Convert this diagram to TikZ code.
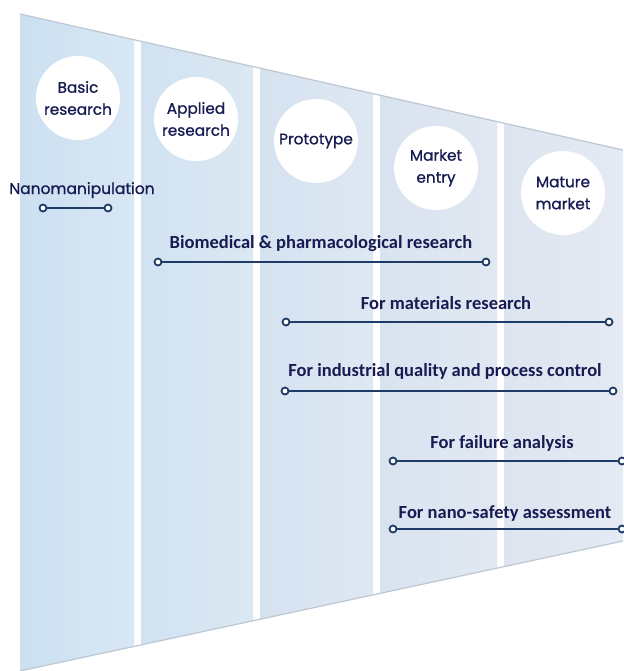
\documentclass[tikz,border=0pt]{standalone}
\usepackage{fontspec}
\setmainfont{Poppins}[FakeBold=0.9]
\newfontfamily\labfont{Carlito}
\begin{document}
\begin{tikzpicture}[x=1pt,y=-1pt,
  stage/.style={circle,fill=white,minimum size=84pt,inner sep=0pt,
    align=center,text=navytext,font=\fontsize{15.3}{22}\selectfont},
  endpt/.style={circle,draw=linkblue,fill=white,line width=1.8pt,
    minimum size=7pt,inner sep=0pt},
  link/.style={draw=linkblue,line width=2.2pt},
  linklabel/.style={text=navytext,font=\labfont\bfseries\fontsize{18.5}{20}\selectfont,
    inner sep=0pt,anchor=base},
]
\definecolor{navytext}{HTML}{171B52}
\definecolor{linkblue}{HTML}{1F3C68}
\definecolor{edgegray}{HTML}{BCC7D3}
\useasboundingbox (0,0) rectangle (623,671);
\fill[white] (0,0) rectangle (623,671);

% funnel body, split into five shaded stage columns
\begin{scope}
  \clip (20,14) -- (623,150) -- (623,541) -- (20,671) -- cycle;
  \shade[left color={rgb,255:red,204;green,224;blue,241},right color={rgb,255:red,216;green,231;blue,244}] (20,0) rectangle (134,671);
  \shade[left color={rgb,255:red,209;green,226;blue,241},right color={rgb,255:red,219;green,232;blue,243}] (141,0) rectangle (253,671);
  \shade[left color={rgb,255:red,213;green,226;blue,240},right color={rgb,255:red,222;green,232;blue,243}] (260,0) rectangle (373,671);
  \shade[left color={rgb,255:red,217;green,227;blue,240},right color={rgb,255:red,225;green,232;blue,242}] (380,0) rectangle (497,671);
  \shade[left color={rgb,255:red,221;green,229;blue,240},right color={rgb,255:red,229;green,234;blue,243}] (504,0) rectangle (623,671);
\end{scope}
\draw[edgegray,line width=1.2pt] (20,14) -- (623,150);
\draw[edgegray,line width=1.2pt] (20,671) -- (623,541);

% stage circles
\node[stage] (basic)   at (78,98)   {Basic\\research};
\node[stage] (applied) at (196,119) {Applied\\research};
\node[stage] (proto)   at (316,141) {Prototype};
\node[stage] (entry)   at (436,168) {Market\\entry};
\node[stage] (mature)  at (563,193) {Mature\\market};

% application ranges
\node[text=navytext,font=\fontsize{15.5}{18}\selectfont,inner sep=0pt,anchor=base] (tnano) at (82,194) {Nanomanipulation};
\node[endpt] (n1) at (43,208) {};
\node[endpt] (n2) at (108,208) {};
\draw[link] (n1) -- (n2);

\node[linklabel] (tbio) at (321,248) {Biomedical \& pharmacological research};
\node[endpt] (b1) at (158,262) {};
\node[endpt] (b2) at (486,262) {};
\draw[link] (b1) -- (b2);

\node[linklabel] (tmat) at (446,309) {For materials research};
\node[endpt] (m1) at (286,322) {};
\node[endpt] (m2) at (609,322) {};
\draw[link] (m1) -- (m2);

\node[linklabel] (tind) at (445,376) {For industrial quality and process control};
\node[endpt] (i1) at (285,391) {};
\node[endpt] (i2) at (613,391) {};
\draw[link] (i1) -- (i2);

\node[linklabel] (tfail) at (502,448) {For failure analysis};
\node[endpt] (f1) at (393,461) {};
\node[endpt] (f2) at (622,461) {};
\draw[link] (f1) -- (f2);

\node[linklabel] (tsafe) at (505,518) {For nano-safety assessment};
\node[endpt] (s1) at (393,529) {};
\node[endpt] (s2) at (622,529) {};
\draw[link] (s1) -- (s2);
\end{tikzpicture}
\end{document}
